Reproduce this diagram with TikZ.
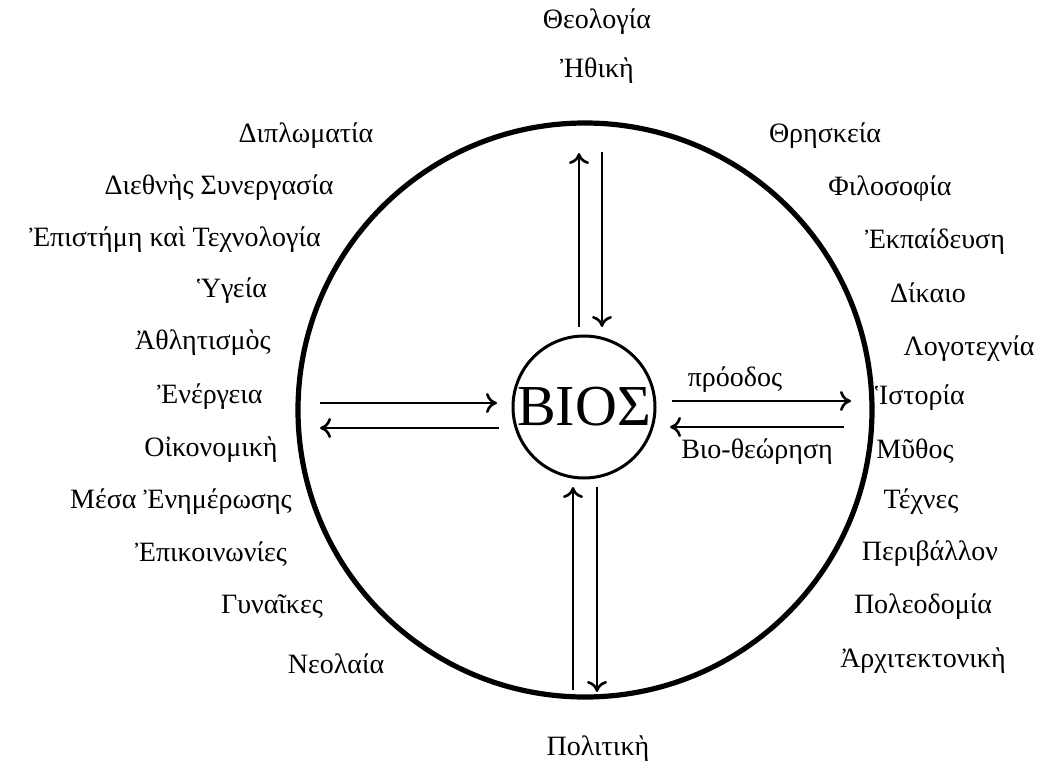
\documentclass[tikz,border=0pt]{standalone}
\usepackage{fontspec}
\setmainfont{Liberation Serif}
\usetikzlibrary{arrows.meta}
\begin{document}
\begin{tikzpicture}[x=0.5pt,y=-0.5pt,
  lbl/.style={font=\fontsize{14}{16}\selectfont, inner sep=0pt, text height=1.6ex, text depth=0.5ex},
  arr/.style={line width=1.2pt, -{Computer Modern Rightarrow[length=5.5pt,width=10pt,line width=1.3pt]}},
  bigring/.style={draw, line width=2.6pt},
  bios/.style={draw, circle, line width=1.5pt, minimum size=71pt, inner sep=0pt, font=\fontsize{29}{32}\selectfont}]
\useasboundingbox (0,0) rectangle (1040,771);
% circles
\node[bigring, circle, minimum size=287pt, inner sep=0pt] (ring) at (585,410) {};
\node[bios] (bios) at (584,407) {ΒΙΟΣ};
% arrow end points
\coordinate (tu1) at (579,327); \coordinate (tu2) at (579,153);
\coordinate (td1) at (602,152); \coordinate (td2) at (602,327);
\coordinate (bu1) at (573,690); \coordinate (bu2) at (573,487);
\coordinate (bd1) at (597,487); \coordinate (bd2) at (597,692);
\coordinate (lr1) at (320,403); \coordinate (lr2) at (497,403);
\coordinate (ll1) at (499,428); \coordinate (ll2) at (320,428);
\coordinate (rr1) at (672,401); \coordinate (rr2) at (851,401);
\coordinate (rl1) at (844,427); \coordinate (rl2) at (670,427);
\draw[arr] (tu1) -- (tu2);
\draw[arr] (td1) -- (td2);
\draw[arr] (bu1) -- (bu2);
\draw[arr] (bd1) -- (bd2);
\draw[arr] (lr1) -- (lr2);
\draw[arr] (ll1) -- (ll2);
\draw[arr] (rr1) -- (rr2);
\draw[arr] (rl1) -- (rl2);
% arrow labels
\node[lbl] (prodos) at (735,381) {πρόοδος};
\node[lbl] (bioth) at (757,453) {Βιο-θεώρηση};
% top / bottom
\node[lbl] (theol) at (597,23) {Θεολογία};
\node[lbl] (ithiki) at (597,72) {Ἠθικὴ};
\node[lbl] (polit) at (598,750) {Πολιτικὴ};
% left column
\node[lbl] (l1) at (306,137) {Διπλωματία};
\node[lbl] (l2) at (219,189) {Διεθνὴς Συνεργασία};
\node[lbl] (l3) at (175,241) {Ἐπιστήμη καὶ Τεχνολογία};
\node[lbl] (l4) at (232,292) {Ὑγεία};
\node[lbl] (l5) at (203,344) {Ἀθλητισμὸς};
\node[lbl] (l6) at (210,398) {Ἐνέργεια};
\node[lbl] (l7) at (211,451) {Οἰκονομικὴ};
\node[lbl] (l8) at (181,503) {Μέσα Ἐνημέρωσης};
\node[lbl] (l9) at (211,556) {Ἐπικοινωνίες};
\node[lbl] (l10) at (272,608) {Γυναῖκες};
\node[lbl] (l11) at (336,668) {Νεολαία};
% right column
\node[lbl] (r1) at (825,137) {Θρησκεία};
\node[lbl] (r2) at (890,190) {Φιλοσοφία};
\node[lbl] (r3) at (935,243) {Ἐκπαίδευση};
\node[lbl] (r4) at (928,297) {Δίκαιο};
\node[lbl, anchor=east] (r5) at (1035,350) {Λογοτεχνία};
\node[lbl] (r6) at (920,399) {Ἱστορία};
\node[lbl] (r7) at (915,453) {Μῦθος};
\node[lbl] (r8) at (921,503) {Τέχνες};
\node[lbl] (r9) at (930,555) {Περιβάλλον};
\node[lbl] (r10) at (923,608) {Πολεοδομία};
\node[lbl] (r11) at (923,662) {Ἀρχιτεκτονικὴ};
\end{tikzpicture}
\end{document}
